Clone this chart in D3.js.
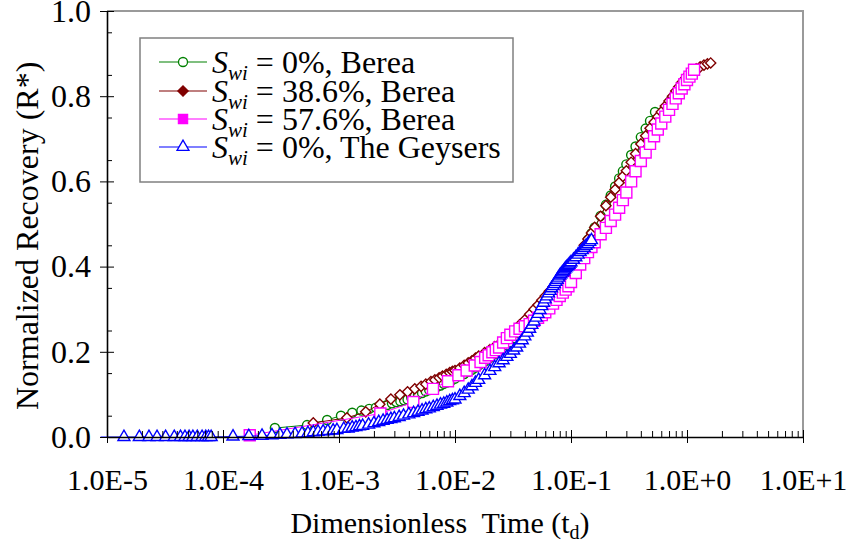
<!DOCTYPE html>
<html>
<head>
<meta charset="utf-8">
<script src="https://cdn.jsdelivr.net/npm/d3@7"></script>
<style>
  html, body { margin: 0; padding: 0; background: #fff; }
  svg { display: block; font-family: "Liberation Serif", "Times New Roman", serif; }
</style>
</head>
<body>
<svg id="chart" width="852" height="544"></svg>
<script>
// Dimensionless time (t_d) and normalized recovery (R*) for each core test.
const tBerea0 = [2.8e-4, 5.3e-4, 7.9e-4, 1.04e-3, 1.3e-3, 1.56e-3, 1.82e-3, 2.08e-3, 2.34e-3, 2.6e-3, 2.86e-3, 3.12e-3, 3.38e-3, 3.64e-3, 3.9e-3, 4.2e-3, 4.5e-3, 4.8e-3, 5.2e-3, 5.6e-3, 6.0e-3, 6.5e-3, 7.0e-3, 7.5e-3, 8.0e-3, 8.5e-3, 9.0e-3, 9.5e-3,
  1.0e-2, 1.1e-2, 1.2e-2, 1.3e-2, 1.4e-2, 1.5e-2, 1.6e-2, 1.8e-2, 2.0e-2, 2.2e-2, 2.4e-2, 2.6e-2, 2.8e-2, 3.0e-2, 3.3e-2, 3.6e-2, 4.0e-2, 4.4e-2, 4.8e-2, 5.2e-2, 5.6e-2, 6.0e-2, 6.5e-2, 7.0e-2, 7.5e-2, 8.0e-2, 8.5e-2, 9.0e-2, 9.5e-2,
  0.10, 0.11, 0.12, 0.13, 0.14, 0.15, 0.16, 0.18, 0.20, 0.22, 0.24, 0.26, 0.28, 0.30, 0.33, 0.36, 0.40, 0.44, 0.48, 0.53];
const rBerea0 = [0.021, 0.028, 0.040, 0.050, 0.057, 0.062, 0.066, 0.069, 0.072, 0.075, 0.079, 0.082, 0.084, 0.086, 0.088, 0.092, 0.096, 0.100, 0.103, 0.107, 0.110, 0.114, 0.118, 0.121, 0.125, 0.128, 0.131, 0.134,
  0.137, 0.143, 0.148, 0.153, 0.158, 0.163, 0.168, 0.177, 0.186, 0.194, 0.201, 0.208, 0.215, 0.222, 0.232, 0.243, 0.255, 0.268, 0.280, 0.291, 0.301, 0.312, 0.324, 0.335, 0.346, 0.356, 0.365, 0.374, 0.382,
  0.390, 0.411, 0.430, 0.447, 0.463, 0.478, 0.492, 0.519, 0.545, 0.567, 0.588, 0.607, 0.624, 0.640, 0.662, 0.682, 0.704, 0.724, 0.742, 0.763];

const tBerea386 = [6.0e-4, 1.17e-3, 1.7e-3, 2.25e-3, 2.8e-3, 3.35e-3, 3.9e-3, 4.5e-3, 5.1e-3, 5.6e-3, 6.2e-3, 6.7e-3, 7.3e-3, 7.8e-3, 8.4e-3, 9.0e-3, 9.5e-3,
  1.0e-2, 1.1e-2, 1.2e-2, 1.3e-2, 1.4e-2, 1.5e-2, 1.6e-2, 1.8e-2, 2.0e-2, 2.2e-2, 2.4e-2, 2.6e-2, 2.8e-2, 3.0e-2, 3.3e-2, 3.6e-2, 4.0e-2, 4.4e-2, 4.8e-2, 5.2e-2, 5.6e-2, 6.0e-2, 6.5e-2, 7.0e-2, 7.5e-2, 8.0e-2, 8.5e-2, 9.0e-2, 9.5e-2,
  0.10, 0.11, 0.12, 0.13, 0.14, 0.15, 0.16, 0.18, 0.20, 0.22, 0.24, 0.26, 0.28, 0.30, 0.33, 0.36, 0.40, 0.44, 0.48, 0.52, 0.56, 0.60, 0.65, 0.70, 0.75, 0.80, 0.85, 0.90, 0.95,
  1.0, 1.1, 1.2, 1.3, 1.4, 1.5, 1.6];
const rBerea386 = [0.033, 0.045, 0.059, 0.077, 0.089, 0.099, 0.106, 0.113, 0.119, 0.124, 0.130, 0.134, 0.139, 0.143, 0.147, 0.151, 0.154,
  0.156, 0.162, 0.168, 0.174, 0.179, 0.185, 0.190, 0.198, 0.205, 0.212, 0.218, 0.225, 0.233, 0.241, 0.252, 0.263, 0.275, 0.288, 0.300, 0.310, 0.321, 0.331, 0.342, 0.352, 0.362, 0.371, 0.379, 0.386, 0.393,
  0.400, 0.418, 0.434, 0.450, 0.465, 0.479, 0.492, 0.518, 0.543, 0.563, 0.581, 0.597, 0.612, 0.625, 0.645, 0.665, 0.688, 0.707, 0.725, 0.739, 0.752, 0.763, 0.777, 0.789, 0.800, 0.812, 0.822, 0.832, 0.840,
  0.848, 0.857, 0.864, 0.869, 0.873, 0.876, 0.878];

const tBerea576 = [1.7e-4, 2.27e-3, 4.37e-3, 6.46e-3, 8.7e-3, 1.07e-2, 1.26e-2, 1.48e-2, 1.66e-2, 1.82e-2, 1.95e-2, 2.1e-2, 2.25e-2, 2.4e-2, 2.6e-2, 2.8e-2, 3.0e-2, 3.3e-2, 3.6e-2, 4.0e-2, 4.4e-2, 4.8e-2, 5.2e-2, 5.6e-2, 6.0e-2, 6.5e-2, 7.0e-2, 7.5e-2, 8.0e-2, 8.5e-2, 9.0e-2, 9.5e-2,
  0.10, 0.11, 0.12, 0.13, 0.14, 0.15, 0.16, 0.18, 0.20, 0.22, 0.24, 0.26, 0.28, 0.30, 0.33, 0.36, 0.40, 0.44, 0.48, 0.52, 0.56, 0.60, 0.65, 0.70, 0.75, 0.80, 0.85, 0.90, 0.95,
  1.0, 1.05, 1.1, 1.15];
const rBerea576 = [0.004, 0.055, 0.082, 0.113, 0.131, 0.145, 0.156, 0.168, 0.176, 0.186, 0.192, 0.199, 0.204, 0.210, 0.222, 0.232, 0.240, 0.248, 0.254, 0.260, 0.265, 0.273, 0.280, 0.286, 0.293, 0.302, 0.313, 0.322, 0.331, 0.339, 0.346, 0.354,
  0.364, 0.385, 0.405, 0.420, 0.434, 0.446, 0.457, 0.476, 0.491, 0.507, 0.522, 0.538, 0.556, 0.574, 0.600, 0.624, 0.648, 0.668, 0.688, 0.706, 0.722, 0.736, 0.752, 0.768, 0.782, 0.795, 0.807, 0.818, 0.828,
  0.838, 0.846, 0.853, 0.862];

const tGeysers = [8.8e-6, 1.4e-5, 1.9e-5, 2.3e-5, 2.7e-5, 3.2e-5, 3.8e-5, 4.3e-5, 4.7e-5, 5.1e-5, 5.5e-5, 6.0e-5, 6.6e-5, 7.1e-5, 7.5e-5, 7.9e-5,
  1.22e-4, 1.67e-4, 2.17e-4, 2.64e-4, 3.1e-4, 3.56e-4, 4.18e-4, 4.8e-4, 5.4e-4, 6.0e-4, 6.6e-4, 7.3e-4, 8.0e-4, 8.9e-4, 9.6e-4,
  1.1e-3, 1.2e-3, 1.3e-3, 1.4e-3, 1.5e-3, 1.6e-3, 1.8e-3, 2.0e-3, 2.2e-3, 2.4e-3, 2.6e-3, 2.8e-3, 3.0e-3, 3.3e-3, 3.6e-3, 4.0e-3, 4.4e-3, 4.8e-3, 5.2e-3, 5.6e-3, 6.0e-3, 6.5e-3, 7.0e-3, 7.5e-3, 8.0e-3, 8.5e-3, 9.0e-3, 9.5e-3,
  1.0e-2, 1.1e-2, 1.2e-2, 1.3e-2, 1.4e-2, 1.5e-2,
  1.6e-2, 1.8e-2, 2.0e-2, 2.2e-2, 2.4e-2, 2.6e-2, 2.8e-2, 3.0e-2, 3.2e-2, 3.4e-2, 3.6e-2, 3.8e-2, 4.0e-2, 4.2e-2, 4.4e-2, 4.6e-2, 4.8e-2, 5.0e-2, 5.2e-2, 5.4e-2, 5.6e-2, 5.8e-2,
  6.0e-2, 6.2e-2, 6.4e-2, 6.6e-2, 6.8e-2, 7.0e-2, 7.2e-2, 7.4e-2, 7.6e-2, 7.8e-2, 8.0e-2, 8.2e-2, 8.4e-2, 8.6e-2, 8.8e-2, 9.0e-2, 9.2e-2, 9.4e-2, 9.6e-2, 9.8e-2,
  0.100, 0.105, 0.110, 0.115, 0.120, 0.125, 0.130, 0.135, 0.140, 0.145, 0.150];
const rGeysers = [0, 0, 0, 0, 0, 0, 0, 0, 0, 0, 0, 0, 0, 0, 0, 0,
  0.001, 0.002, 0.003, 0.004, 0.005, 0.006, 0.007, 0.008, 0.009, 0.011, 0.012, 0.013, 0.014, 0.015, 0.016,
  0.019, 0.020, 0.022, 0.023, 0.025, 0.026, 0.029, 0.032, 0.035, 0.038, 0.040, 0.042, 0.044, 0.047, 0.050, 0.053, 0.056, 0.059, 0.062, 0.065, 0.067, 0.070, 0.073, 0.076, 0.078, 0.081, 0.084, 0.086,
  0.088, 0.096, 0.103, 0.111, 0.119, 0.127,
  0.134, 0.145, 0.155, 0.164, 0.173, 0.180, 0.188, 0.195, 0.203, 0.210, 0.219, 0.227, 0.236, 0.245, 0.254, 0.263, 0.271, 0.280, 0.289, 0.298, 0.307, 0.315,
  0.323, 0.330, 0.337, 0.343, 0.349, 0.354, 0.359, 0.364, 0.369, 0.374, 0.379, 0.382, 0.386, 0.389, 0.393, 0.396, 0.399, 0.401, 0.404, 0.407,
  0.410, 0.416, 0.422, 0.428, 0.434, 0.439, 0.444, 0.449, 0.453, 0.458, 0.462];

const seriesNames = ["= 0%, Berea", "= 38.6%, Berea", "= 57.6%, Berea", "= 0%, The Geysers"];
const xTickValues = [1e-5, 1e-4, 1e-3, 1e-2, 1e-1, 1, 10];
const xTickLabels = ["1.0E-5", "1.0E-4", "1.0E-3", "1.0E-2", "1.0E-1", "1.0E+0", "1.0E+1"];
const yTickValues = [0, 0.2, 0.4, 0.6, 0.8, 1.0];
const yTickLabels = ["0.0", "0.2", "0.4", "0.6", "0.8", "1.0"];

const series = [
  { name: seriesNames[0], t: tBerea0,   r: rBerea0,   color: "#008000", shape: "circle",   legendFill: "#fff" },
  { name: seriesNames[1], t: tBerea386, r: rBerea386, color: "#800000", shape: "diamond",  legendFill: "#800000" },
  { name: seriesNames[2], t: tBerea576, r: rBerea576, color: "#ff00ff", shape: "square",   legendFill: "#ff00ff" },
  { name: seriesNames[3], t: tGeysers,  r: rGeysers,  color: "#0000ff", shape: "triangle", legendFill: "#fff" }
];

const svg = d3.select("#chart");
const plot = { left: 107, right: 803, top: 11, bottom: 437 };

const x = d3.scaleLog().domain([1e-5, 10]).range([plot.left, plot.right]);
const y = d3.scaleLinear().domain([0, 1]).range([plot.bottom, plot.top]);

const symbolPath = {
  circle:   d3.symbol().type(d3.symbolCircle).size(64)(),
  diamond:  d3.symbol().type(d3.symbolSquare).size(52)(),
  square:   d3.symbol().type(d3.symbolSquare).size(121)(),
  triangle: d3.symbol().type(d3.symbolTriangle).size(62)()
};
const symbolRotate = { circle: 0, diamond: 45, square: 0, triangle: 0 };

// markers stay inside the horizontal extent of the axes
svg.append("clipPath").attr("id", "plotClip")
  .append("rect").attr("x", plot.left).attr("y", 0)
  .attr("width", plot.right - plot.left).attr("height", 544);

// frame: light grey top/right edges
svg.append("path")
  .attr("d", `M${plot.left},${plot.top}H${plot.right}V${plot.bottom}`)
  .attr("fill", "none").attr("stroke", "#9a9a9a").attr("stroke-width", 2);

// data
const line = d3.line().x(d => x(d[0])).y(d => y(d[1]));
series.forEach(s => {
  const pts = s.t.map((t, i) => [t, s.r[i]]);
  const g = svg.append("g");
  g.append("path").datum(pts).attr("d", line)
    .attr("fill", "none").attr("stroke", s.color).attr("stroke-width", 1);
  g.append("g").attr("clip-path", "url(#plotClip)")
    .selectAll("path").data(pts).join("path")
    .attr("d", symbolPath[s.shape])
    .attr("transform", d => `translate(${x(d[0])},${y(d[1])}) rotate(${symbolRotate[s.shape]})`)
    .attr("fill", "#fff").attr("stroke", s.color).attr("stroke-width", 1.4);
});

// x axis: decade ticks crossing the axis, minor ticks inside
const xMinor = [];
for (let e = -5; e < 1; e++) for (let m = 2; m <= 9; m++) xMinor.push(m * Math.pow(10, e));
const xAxisG = svg.append("g").attr("transform", `translate(0,${plot.bottom})`);
xAxisG.call(d3.axisBottom(x).tickValues(xMinor).tickSize(-6).tickFormat(""))
  .call(g => g.select(".domain").remove());
xAxisG.append("g").call(d3.axisBottom(x).tickValues(xTickValues).tickSizeInner(6).tickSizeOuter(0)
    .tickFormat((d, i) => xTickLabels[i]))
  .call(g => g.selectAll(".tick line").attr("y1", -7))
  .call(g => g.select(".domain").attr("stroke-width", 1.6))
  .call(g => g.selectAll("text").attr("font-size", 30).attr("font-family", "Liberation Serif")
    .attr("fill", "#000").attr("y", 53).attr("dy", 0));

// y axis
const yMinor = d3.range(0.05, 1, 0.1);
const yAxisG = svg.append("g").attr("transform", `translate(${plot.left},0)`);
yAxisG.call(d3.axisLeft(y).tickValues(yMinor).tickSize(-5).tickFormat(""))
  .call(g => g.select(".domain").remove());
yAxisG.append("g").call(d3.axisLeft(y).tickValues(yTickValues).tickSizeInner(7).tickSizeOuter(0)
    .tickPadding(9).tickFormat((d, i) => yTickLabels[i]))
  .call(g => g.selectAll(".tick line").attr("x1", 7))
  .call(g => g.select(".domain").attr("stroke-width", 1.6))
  .call(g => g.selectAll("text").attr("font-size", 32).attr("font-family", "Liberation Serif").attr("fill", "#000"));

// axis titles
const xTitle = svg.append("text").attr("x", 440).attr("y", 533)
  .attr("text-anchor", "middle").attr("font-size", 30);
xTitle.append("tspan").text("Dimensionless\u00a0 Time (t");
xTitle.append("tspan").attr("font-size", 20).attr("dy", 6).text("d");
xTitle.append("tspan").attr("dy", -6).text(")");

svg.append("text")
  .attr("transform", "translate(38,410) rotate(-90)")
  .attr("text-anchor", "start").attr("font-size", 32)
  .text("Normalized Recovery (R*)");

// legend
const legend = svg.append("g");
legend.append("rect").attr("x", 140).attr("y", 38).attr("width", 373).attr("height", 144)
  .attr("fill", "#fff").attr("stroke", "#808080").attr("stroke-width", 1.5);
const rowY = [62, 91, 119, 147];
series.forEach((s, i) => {
  const ly = rowY[i];
  legend.append("line").attr("x1", 159).attr("x2", 207).attr("y1", ly).attr("y2", ly)
    .attr("stroke", s.color).attr("stroke-width", 1.2);
  legend.append("path").attr("d", symbolPath[s.shape])
    .attr("transform", `translate(183,${ly}) rotate(${symbolRotate[s.shape]}) scale(${s.shape === "square" ? 0.85 : 1})`)
    .attr("fill", s.legendFill).attr("stroke", s.color).attr("stroke-width", 1.3);
  const txt = legend.append("text").attr("x", 212).attr("y", ly + 11).attr("font-size", 32);
  txt.append("tspan").attr("font-style", "italic").text("S");
  txt.append("tspan").attr("font-style", "italic").attr("font-size", 21).attr("dy", 7).text("wi");
  txt.append("tspan").attr("dy", -7).text("\u00a0" + s.name);
});
</script>
</body>
</html>
